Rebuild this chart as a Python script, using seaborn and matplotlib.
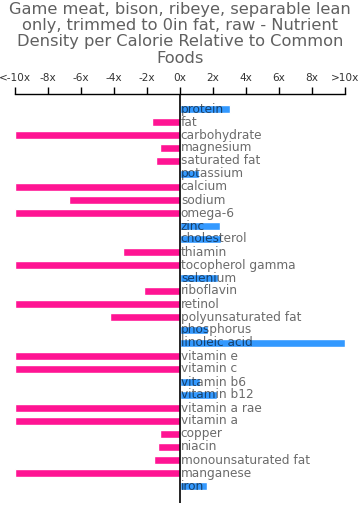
import matplotlib
matplotlib.use("Agg")
import matplotlib.pyplot as plt
import seaborn as sns
import pandas as pd

nutrients = ["protein", "fat", "carbohydrate", "magnesium", "saturated fat", "potassium",
             "calcium", "sodium", "omega-6", "zinc", "cholesterol", "thiamin",
             "tocopherol gamma", "selenium", "riboflavin", "retinol", "polyunsaturated fat",
             "phosphorus", "linoleic acid", "vitamin e", "vitamin c", "vitamin b6",
             "vitamin b12", "vitamin a rae", "vitamin a", "copper", "niacin",
             "monounsaturated fat", "manganese", "iron"]
values = [3.0, -1.68, -10, -1.2, -1.47, 1.17,
          -10, -6.75, -10, 2.42, 2.47, -3.47,
          -10, 2.32, -2.18, -10, -4.22,
          1.72, 10, -10, -10, 1.21,
          2.22, -10, -10, -1.23, -1.31,
          -1.56, -10, 1.62]
tick_values = [-10, -8, -6, -4, -2, 0, 2, 4, 6, 8, 10]
tick_labels = ["<-10x", "-8x", "-6x", "-4x", "-2x", "0x", "2x", "4x", "6x", "8x", ">10x"]
title = ("Game meat, bison, ribeye, separable lean\nonly, trimmed to 0in fat, raw - Nutrient\n"
         "Density per Calorie Relative to Common\nFoods")

sns.set_style("white")
plt.rcParams['font.family'] = ['DejaVu Sans']

df = pd.DataFrame({"nutrient": nutrients, "value": values})
df["sign"] = ["pos" if v > 0 else "neg" for v in values]

fig = plt.figure(figsize=(3.6, 5.14), dpi=100)
ax = fig.add_axes([15/360, 1 - 503/514, 330/360, (503 - 94)/514])

sns.barplot(data=df, x="value", y="nutrient", hue="sign",
            palette={"pos": "#3399ff", "neg": "#ff1493"}, dodge=False,
            width=0.62, legend=False, ax=ax, saturation=1)

ax.set_xlim(-10, 10)
ax.set_ylim(29 + 17/13, -15/13)
ax.axvline(0, color="black", lw=1.2, zorder=5)

for i, name in enumerate(nutrients):
    ax.text(0.05, i, name, va="center", ha="left", fontsize=8.7, color="black",
            alpha=0.58, zorder=6)

ax.set_yticks([])
ax.set_ylabel("")
ax.set_xlabel("")
ax.xaxis.tick_top()
ax.set_xticks(tick_values)
ax.set_xticklabels(tick_labels, fontsize=7.6, color="#333333")
ax.tick_params(axis="x", direction="out", length=5, width=1, color="black", pad=3)
for s in ["left", "right", "bottom"]:
    ax.spines[s].set_visible(False)
ax.spines["top"].set_color("black")
ax.spines["top"].set_linewidth(1)

fig.suptitle(title, fontsize=11.7, color="#606060", y=0.996, va="top", linespacing=1.1)

fig.savefig("out.png", dpi=100)
